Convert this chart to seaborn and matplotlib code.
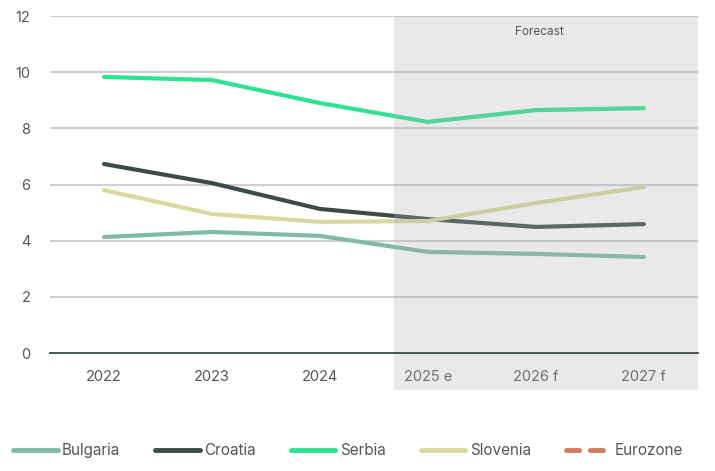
import numpy as np
import pandas as pd
import seaborn as sns
import matplotlib.pyplot as plt
from matplotlib.lines import Line2D

# values
years = ["2022", "2023", "2024", "2025 e", "2026 f", "2027 f"]
bulgaria = [4.13, 4.31, 4.17, 3.60, 3.53, 3.42]
croatia = [6.73, 6.05, 5.13, 4.77, 4.49, 4.59]
serbia = [9.83, 9.72, 8.90, 8.23, 8.65, 8.72]
slovenia = [5.80, 4.95, 4.67, 4.70, 5.34, 5.91]
y_ticks = [0, 2, 4, 6, 8, 10, 12]

colors = {
    "Bulgaria": "#7ebaa9",
    "Croatia": "#3c4a4a",
    "Serbia": "#2de38f",
    "Slovenia": "#d9d99f",
}
euro_color = "#d27b5a"

df = pd.DataFrame({
    "year": years * 4,
    "value": bulgaria + croatia + serbia + slovenia,
    "country": ["Bulgaria"] * 6 + ["Croatia"] * 6 + ["Serbia"] * 6 + ["Slovenia"] * 6,
})

sns.set_theme(style="white")
plt.rcParams["font.family"] = ["Inter", "DejaVu Sans"]

fig, ax = plt.subplots(figsize=(7.15, 4.71), dpi=100)
fig.subplots_adjust(left=0.07, right=0.976, top=0.966, bottom=0.2505)

sns.lineplot(data=df, x="year", y="value", hue="country", palette=colors,
             linewidth=3, ax=ax, legend=False, sort=False, zorder=2)

ax.set_xlim(-0.5, 5.5)
ax.set_ylim(0, 12)
ax.set_yticks(y_ticks)
ax.set_xlabel("")
ax.set_ylabel("")

# gridlines
for t in y_ticks[1:]:
    ax.axhline(t, color="#cdd0d0", linewidth=1.5, zorder=1)

for s in ["top", "right", "left"]:
    ax.spines[s].set_visible(False)
ax.spines["bottom"].set_color("#3c4a4a")
ax.spines["bottom"].set_linewidth(1.3)
ax.spines["bottom"].set_zorder(4)

ax.tick_params(axis="both", length=0, labelsize=10.5, labelcolor="#555555")
ax.tick_params(axis="y", pad=14)
ax.tick_params(axis="x", pad=12)

# forecast shading (semi-transparent overlay)
ax.axvspan(2.69, 5.5, ymin=-0.11, ymax=1, color="#b0b0b0", alpha=0.28,
           linewidth=0, clip_on=False, zorder=3)
ax.text(4.03, 11.42, "Forecast", ha="center", va="center", fontsize=8.5,
        color="#555555", zorder=5)

handles = [Line2D([], [], color=c, linewidth=3.5) for c in colors.values()]
handles.append(Line2D([], [], color=euro_color, linewidth=3.5,
                      linestyle=(0, (2.7, 2.2)), dash_capstyle="round"))
labels = list(colors.keys()) + ["Eurozone"]
fig.legend(handles, labels, loc="center", bbox_to_anchor=(0.487, 0.043), ncol=5,
           frameon=False, fontsize=11, labelcolor="#555555", handlelength=2.9,
           handletextpad=0.3, columnspacing=2.3)

fig.savefig("out.png", dpi=100)
